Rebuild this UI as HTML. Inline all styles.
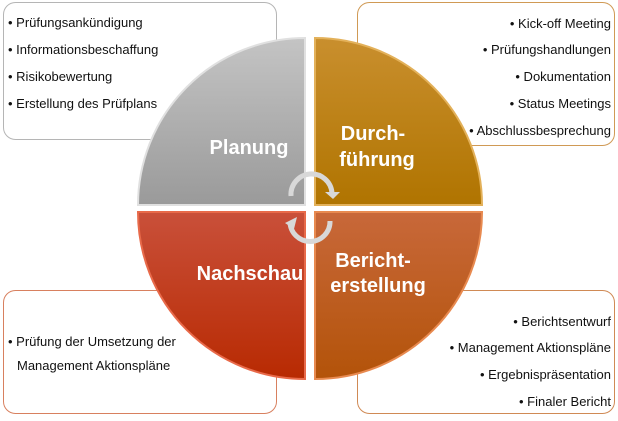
<!DOCTYPE html>
<html><head><meta charset="utf-8"><style>
body{margin:0;background:#fff}
svg text{font-family:"Liberation Sans",sans-serif}
</style></head><body>
<svg width="618" height="416" viewBox="0 0 618 416" xmlns="http://www.w3.org/2000/svg">
<defs>
<linearGradient id="g1" x1="0" y1="0" x2="0" y2="1"><stop offset="0" stop-color="#c4c4c4"/><stop offset="1" stop-color="#9a9a9a"/></linearGradient>
<linearGradient id="g2" x1="0" y1="0" x2="0" y2="1"><stop offset="0" stop-color="#c98f2e"/><stop offset="1" stop-color="#b07400"/></linearGradient>
<linearGradient id="g3" x1="0" y1="0" x2="0" y2="1"><stop offset="0" stop-color="#c9503a"/><stop offset="1" stop-color="#b82a02"/></linearGradient>
<linearGradient id="g4" x1="0" y1="0" x2="0" y2="1"><stop offset="0" stop-color="#c8683a"/><stop offset="1" stop-color="#b35309"/></linearGradient>
</defs>
<rect x="3.5" y="2.5" width="273" height="137" rx="12" fill="#fff" stroke="#b5b5b5"/>
<rect x="357.5" y="2.5" width="257" height="143" rx="12" fill="#fff" stroke="#d09a55"/>
<rect x="3.5" y="290.5" width="273" height="123" rx="12" fill="#fff" stroke="#d8805f"/>
<rect x="357.5" y="290.5" width="257" height="123" rx="12" fill="#fff" stroke="#d08a55"/>
<path d="M305 205 L138 205 A167 167 0 0 1 305 38 Z" fill="url(#g1)" stroke="#e0e0e0" stroke-width="2"/>
<path d="M315 205 L315 38 A167 167 0 0 1 482 205 Z" fill="url(#g2)" stroke="#e3b15a" stroke-width="2"/>
<path d="M305 212 L305 379 A167 167 0 0 1 138 212 Z" fill="url(#g3)" stroke="#e86a4a" stroke-width="2"/>
<path d="M315 212 L482 212 A167 167 0 0 1 315 379 Z" fill="url(#g4)" stroke="#e88a50" stroke-width="2"/>
<g fill="none" stroke="#d8d8d8" stroke-width="5">
<path d="M291 196 A20 20 0 0 1 332 193"/>
<path d="M330 221 A20 20 0 0 1 290 222"/>
</g>
<path d="M325 192 L340 192 L333 199 Z" fill="#d8d8d8"/>
<path d="M285 223 L297 217 L294 229 Z" fill="#d8d8d8"/>
<g fill="#fff" font-weight="bold" font-size="20" text-anchor="middle">
<text x="249" y="154">Planung</text>
<text x="373" y="140">Durch-</text>
<text x="377" y="166">führung</text>
<text x="250" y="280">Nachschau</text>
<text x="373" y="267">Bericht-</text>
<text x="378" y="292">erstellung</text>
</g>
<g font-size="13" fill="#111">
<text x="8" y="27">• Prüfungsankündigung</text>
<text x="8" y="54">• Informationsbeschaffung</text>
<text x="8" y="81">• Risikobewertung</text>
<text x="8" y="108">• Erstellung des Prüfplans</text>
<text x="8" y="346">• Prüfung der Umsetzung der</text>
<text x="17" y="370">Management Aktionspläne</text>
</g>
<g font-size="13" fill="#111" text-anchor="end">
<text x="611" y="28">• Kick-off Meeting</text>
<text x="611" y="54">• Prüfungshandlungen</text>
<text x="611" y="81">• Dokumentation</text>
<text x="611" y="108">• Status Meetings</text>
<text x="611" y="135">• Abschlussbesprechung</text>
<text x="611" y="326">• Berichtsentwurf</text>
<text x="611" y="352">• Management Aktionspläne</text>
<text x="611" y="379">• Ergebnispräsentation</text>
<text x="611" y="406">• Finaler Bericht</text>
</g>
</svg>
</body></html>
